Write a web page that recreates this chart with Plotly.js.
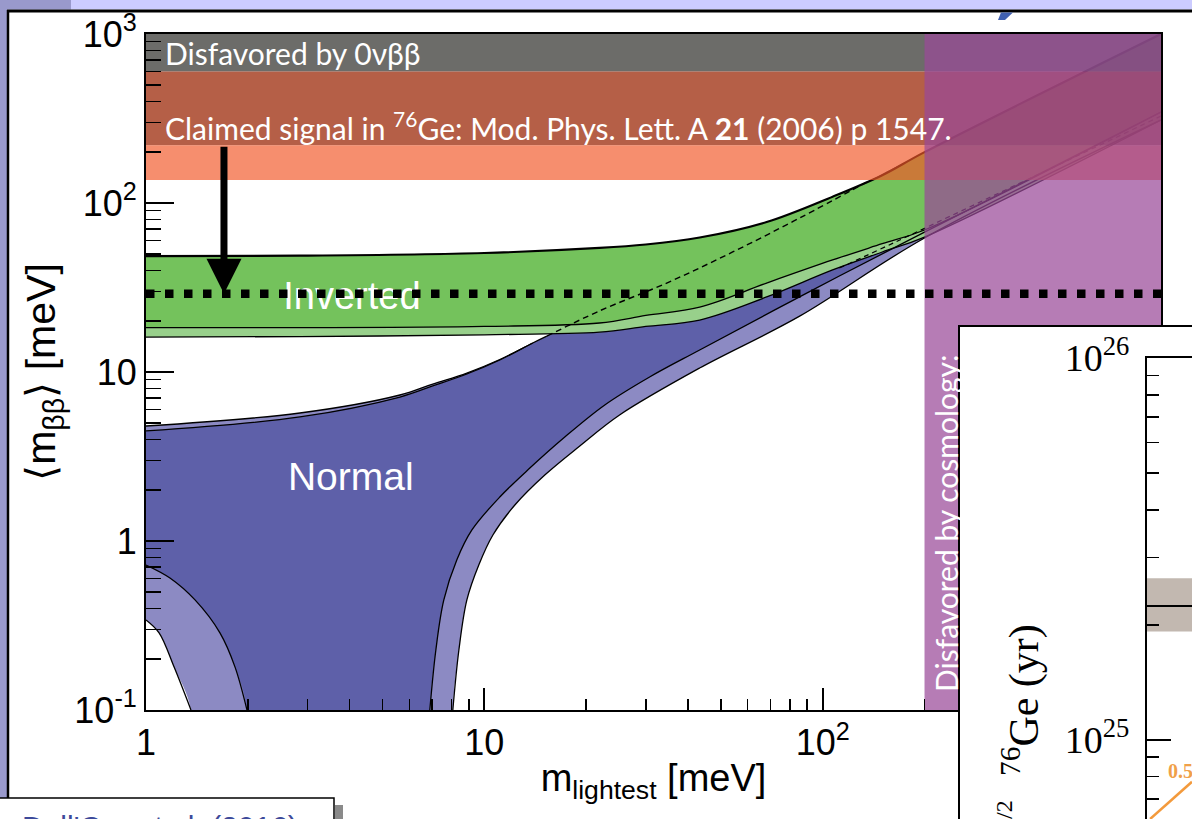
<!DOCTYPE html>
<html><head><meta charset="utf-8">
<script src="https://cdn.plot.ly/plotly-3.0.1.min.js"></script>
<style>html,body{margin:0;padding:0;background:#fff;overflow:hidden}#chart{width:1192px;height:819px}</style>
</head><body><div id="chart"></div>
<script>
// ---------- data (values in meV) ----------
// Inverted ordering band
const ioX        = [1, 2.85, 10, 21.9, 30, 43.3, 68.3, 107, 150, 200, 1000];
const ioUpper    = [48.5, 48.8, 50.6, 54.2, 56.8, 62.5, 77.2, 109, 146, 200, 1000];
const ioDarkLow  = [18.3, 18.3, 18.6, 19.5, 21.6, 24.2, 33.6, 46.0, 57.4, 69.2, 345];
const ioLightLow = [16.1, 16.2, 16.6, 17.2, 18.6, 20.3, 27.8, 40.2, 51.3, 62.9, 310];
// Normal ordering band: top edges at small m_lightest
const noTopX     = [1, 2.85, 5.63, 7.04, 8.88, 11.11, 13.9];
const noDarkTop  = [4.48, 5.42, 7.11, 8.27, 9.73, 11.78, 14.85];
const noLightTop = [4.79, 5.72, 7.31, 8.49, 9.86, 11.86, 14.85];
// common top edge (dashed inside the inverted band)
const noUpX = [15.3, 21.9, 34.6, 54.2, 85.5, 135, 200, 1000];
const noUpY = [16.3, 23.0, 33.6, 51.3, 81.5, 133, 200, 1000];
// lower edges: inner (cancellation) branch and outer branch
const noDarkInnerX  = [1, 1.177, 1.396, 1.654, 1.832, 1.988];
const noDarkInnerY  = [0.721, 0.604, 0.448, 0.286, 0.180, 0.1];
const noDarkOuterX  = [6.90, 7.19, 7.59, 8.29, 9.19, 11.11, 13.63, 17.29, 22.7, 30.8, 43.3, 89.7, 200, 1000];
const noDarkOuterY  = [0.1, 0.2265, 0.448, 0.772, 1.162, 1.821, 2.70, 4.12, 6.38, 9.34, 13.5, 29.3, 67.3, 345];
const noLightInnerX = [1, 1.093, 1.21, 1.358];
const noLightInnerY = [0.341, 0.286, 0.180, 0.1];
const noLightOuterX = [8.07, 8.41, 8.88, 9.63, 10.6, 12.31, 15.09, 19.15, 25.1, 43.3, 85.5, 200, 1000];
const noLightOuterY = [0.1, 0.2265, 0.448, 0.721, 1.085, 1.633, 2.457, 3.65, 5.57, 10.56, 21.4, 62.1, 310];
// dashed line next to the lower edge of the inverted band
const dash2X = [112, 169, 1000];
const dash2Y = [41.2, 60.4, 327];
// horizontal bands [low, high]
const bandDisfavored = [600, 1000];
const bandClaimed1   = [220, 600];
const bandClaimed3   = [137, 220];
const cosmoX         = [200, 1000];
const sensitivity    = 29;
const arrowX = 1.70, arrowFrom = 220, arrowTo = 29;
const xRange = [1, 1000], yRange = [0.1, 1000];
const xTickVals = [1, 10, 100, 1000];
const xTickText = ['1', '10', '10<sup>2</sup>', '10<sup>3</sup>'];
const yTickVals = [0.1, 1, 10, 100, 1000];
const yTickText = ['10<sup>-1</sup>', '1', '10', '10<sup>2</sup>', '10<sup>3</sup>'];
// inset (half-life, yr)
const insetRangeY  = [6.2e24, 1e26];
const insetBand    = [1.92e25, 2.65e25];
const insetClaim   = 2.24e25;
const insetCurveX  = [0.07, 1.0];
const insetCurveY  = [6.2e24, 7.76e24];
const insetTickVals = [1e25, 1e26];
const insetTickText = ['10<sup>25</sup>', '10<sup>26</sup>'];

// ---------- helpers ----------
const W = 1192, H = 819;
const PX = v => v / W, PY = v => 1 - v / H;
const L10 = Math.log10;
function minorVals(lo, hi) { const v = []; for (let d = lo; d < hi; d++) for (let k = 2; k <= 9; k++) v.push(k * Math.pow(10, d)); return v; }
const base = {hoverinfo: 'skip', showlegend: false, xaxis: 'x', yaxis: 'y'};
const below = yRange[0] / 10; // closes lower edge outside the visible range
function lowerEdge(ix, iy, ox, oy) {
  return {x: ix.concat([ix[ix.length - 1], ox[0]], ox), y: iy.concat([below, below], oy)};
}
function fillBetween(lx, ly, ux, uy, color) {
  return [
    Object.assign({}, base, {x: lx, y: ly, mode: 'lines', line: {width: 0, shape: 'spline'}}),
    Object.assign({}, base, {x: ux, y: uy, mode: 'lines', line: {width: 0, shape: 'spline'}, fill: 'tonexty', fillcolor: color})
  ];
}
function stroke(x, y, w, dash) {
  return Object.assign({}, base, {x, y, mode: 'lines', line: {color: 'black', width: w, shape: 'spline', dash: dash || 'solid'}});
}
function rect(x0, x1, y0, y1, color) {
  return Object.assign({}, base, {x: [x0, x1, x1, x0, x0], y: [y0, y0, y1, y1, y0], mode: 'lines', line: {width: 0}, fill: 'toself', fillcolor: color});
}

const C = {
  ioDark: '#74c25c', ioLight: '#98d08b', noDark: '#5e60a9', noLight: '#8c8ac3',
  gray: 'rgba(71,71,68,0.8)', brown: 'rgba(162,55,25,0.8)', orange: 'rgba(241,89,42,0.68)',
  cosmo: 'rgba(154,74,152,0.72)'
};

const noLightLower = lowerEdge(noLightInnerX, noLightInnerY, noLightOuterX, noLightOuterY);
const noDarkLower  = lowerEdge(noDarkInnerX, noDarkInnerY, noDarkOuterX, noDarkOuterY);

const SANS = 'Liberation Sans, Arial, sans-serif';
const GILL = 'Lato, Open Sans, sans-serif';
const SERIF = 'Liberation Serif, Times New Roman, serif';

const traces = [].concat(
  fillBetween(noLightLower.x, noLightLower.y, noTopX.concat(noUpX), noLightTop.concat(noUpY), C.noLight),
  fillBetween(noDarkLower.x, noDarkLower.y, noTopX.concat(noUpX), noDarkTop.concat(noUpY), C.noDark),
  fillBetween(ioX, ioLightLow, ioX, ioUpper, C.ioLight),
  fillBetween(ioX, ioDarkLow, ioX, ioUpper, C.ioDark),
  [
    stroke(noTopX, noLightTop, 1.3),
    stroke(noTopX.concat([noUpX[0]]), noDarkTop.concat([noUpY[0]]), 1.3),
    stroke(noUpX.slice(0, 6), noUpY.slice(0, 6), 1.4, '6px,4px'),
    stroke(noDarkInnerX, noDarkInnerY, 1.3),
    stroke(noDarkOuterX, noDarkOuterY, 1.3),
    stroke(noLightInnerX, noLightInnerY, 1.3),
    stroke(noLightOuterX, noLightOuterY, 1.3),
    stroke(ioX, ioLightLow, 1.3),
    stroke(ioX, ioDarkLow, 1.3),
    stroke(dash2X, dash2Y, 1.2, '5px,4px'),
    stroke(ioX, ioUpper, 2.2),
    rect(xRange[0], xRange[1], bandDisfavored[0], bandDisfavored[1], C.gray),
    rect(xRange[0], xRange[1], bandClaimed1[0], bandClaimed1[1], C.brown),
    rect(xRange[0], xRange[1], bandClaimed3[0], bandClaimed3[1], C.orange),
    rect(cosmoX[0], cosmoX[1], yRange[0], yRange[1], C.cosmo),
    Object.assign({}, base, {x: [4.06], y: [27.0], mode: 'text', text: ['Inverted'],
      textfont: {family: SANS, size: 38, color: 'white'}}),
    Object.assign({}, base, {x: [4.03], y: [2.30], mode: 'text', text: ['Normal'],
      textfont: {family: SANS, size: 39, color: 'white'}}),
    Object.assign({}, base, {x: xRange, y: [sensitivity, sensitivity], mode: 'lines',
      line: {color: 'black', width: 8.5, dash: '8.5px,10.5px'}}),
    // inset frame and inset plot
    {x: [0.5], y: [0.5], mode: 'markers', marker: {opacity: 0}, xaxis: 'x2', yaxis: 'y2', hoverinfo: 'skip', showlegend: false},
    {x: [0, 1, 1, 0, 0], y: [insetBand[0], insetBand[0], insetBand[1], insetBand[1], insetBand[0]], mode: 'lines',
      line: {width: 0}, fill: 'toself', fillcolor: '#c2b8b0', xaxis: 'x3', yaxis: 'y3', hoverinfo: 'skip', showlegend: false},
    {x: [0, 1], y: [insetClaim, insetClaim], mode: 'lines', line: {color: 'black', width: 2},
      xaxis: 'x3', yaxis: 'y3', hoverinfo: 'skip', showlegend: false},
    {x: insetCurveX, y: insetCurveY, mode: 'lines', line: {color: '#f39a3c', width: 2.5},
      xaxis: 'x3', yaxis: 'y3', hoverinfo: 'skip', showlegend: false}
  ]
);

const layout = {
  width: W, height: H, margin: {l: 0, r: 0, t: 0, b: 0},
  paper_bgcolor: 'white', plot_bgcolor: 'white', showlegend: false,
  xaxis: {
    type: 'log', range: [L10(xRange[0]), L10(xRange[1])], domain: [PX(146), PX(1161)], anchor: 'y',
    showline: true, linecolor: 'black', linewidth: 2, mirror: true, showgrid: false, zeroline: false,
    ticks: 'inside', ticklen: 22, tickwidth: 2, tickcolor: 'black',
    tickmode: 'array', tickvals: xTickVals, ticktext: xTickText,
    tickfont: {family: SANS, size: 36, color: 'black'},
    minor: {tickmode: 'array', tickvals: minorVals(0, 3), ticks: 'inside', ticklen: 11, tickwidth: 1.5, tickcolor: 'black', showgrid: false},
    title: {text: 'm<sub>lightest</sub> [meV]', font: {family: SANS, size: 38, color: 'black'}, standoff: 2}
  },
  yaxis: {
    type: 'log', range: [L10(yRange[0]), L10(yRange[1])], domain: [PY(710), PY(34)], anchor: 'x',
    showline: true, linecolor: 'black', linewidth: 2, mirror: true, showgrid: false, zeroline: false,
    ticks: 'inside', ticklen: 28, tickwidth: 2, tickcolor: 'black',
    tickmode: 'array', tickvals: yTickVals, ticktext: yTickText,
    tickfont: {family: SANS, size: 36, color: 'black'},
    minor: {tickmode: 'array', tickvals: minorVals(-1, 3), ticks: 'inside', ticklen: 15, tickwidth: 1.5, tickcolor: 'black', showgrid: false},
    title: {text: '\u27e8m<sub>\u03b2\u03b2</sub>\u27e9 [meV]', font: {family: SANS, size: 41, color: 'black'}, standoff: 6}
  },
  xaxis2: {domain: [PX(960), 1], range: [0, 1], anchor: 'y2', side: 'top', showline: true, linecolor: 'black', linewidth: 2,
    showgrid: false, zeroline: false, ticks: '', showticklabels: false, fixedrange: true},
  yaxis2: {domain: [0, PY(327)], range: [0, 1], anchor: 'x2', showline: true, linecolor: 'black', linewidth: 2,
    showgrid: false, zeroline: false, ticks: '', showticklabels: false, fixedrange: true},
  xaxis3: {domain: [PX(1147), 1], range: [0, 1], anchor: 'y3', side: 'top', showline: true, linecolor: 'black', linewidth: 2,
    showgrid: false, zeroline: false, ticks: '', showticklabels: false},
  yaxis3: {type: 'log', domain: [0, PY(358)], range: [L10(insetRangeY[0]), L10(insetRangeY[1])], anchor: 'x3',
    showline: true, linecolor: 'black', linewidth: 2, showgrid: false, zeroline: false,
    ticks: 'inside', ticklen: 24, tickwidth: 2, tickcolor: 'black',
    tickmode: 'array', tickvals: insetTickVals, ticktext: insetTickText,
    tickfont: {family: SERIF, size: 38, color: 'black'}, ticklabelstandoff: 8,
    minor: {tickmode: 'array', tickvals: minorVals(24, 26), ticks: 'inside', ticklen: 12, tickwidth: 1.5, tickcolor: 'black', showgrid: false}},
  shapes: [
    {type: 'rect', xref: 'paper', yref: 'paper', x0: 0, x1: 1, y0: PY(9.5), y1: 1, fillcolor: '#ccccff', line: {width: 0}, layer: 'above'},
    {type: 'rect', xref: 'paper', yref: 'paper', x0: 0, x1: PX(71), y0: PY(9.5), y1: 1, fillcolor: '#9999cc', line: {width: 0}, layer: 'above'},
    {type: 'rect', xref: 'paper', yref: 'paper', x0: 0, x1: PX(7), y0: PY(798), y1: 1, fillcolor: '#9999cc', line: {width: 0}, layer: 'above'},
    {type: 'line', xref: 'paper', yref: 'paper', x0: PX(7), x1: 1, y0: PY(11), y1: PY(11), line: {color: 'black', width: 3}, layer: 'above'},
    {type: 'line', xref: 'paper', yref: 'paper', x0: PX(8), x1: PX(8), y0: PY(798), y1: PY(10), line: {color: 'black', width: 2.5}, layer: 'above'},
    {type: 'path', xref: 'paper', yref: 'paper', layer: 'above', fillcolor: '#4060b0', line: {width: 0},
      path: 'M' + PX(1001) + ',' + PY(12.6) + 'L' + PX(1013) + ',' + PY(12.6) + 'L' + PX(1005) + ',' + PY(20) + 'L' + PX(998) + ',' + PY(20) + 'Z'},
    {type: 'rect', xref: 'paper', yref: 'paper', x0: PX(335), x1: PX(343), y0: PY(840), y1: PY(805), fillcolor: '#8a8a8a', line: {width: 0}, layer: 'above'},
    {type: 'rect', xref: 'paper', yref: 'paper', x0: PX(-5), x1: PX(334), y0: PY(840), y1: PY(798), fillcolor: 'white', line: {color: 'black', width: 1.5}, layer: 'above'}
  ],
  annotations: [
    {xref: 'paper', yref: 'paper', x: PX(163), y: PY(53), xanchor: 'left', yanchor: 'middle', showarrow: false,
      text: 'Disfavored by 0\u03bd\u03b2\u03b2', font: {family: GILL, size: 30, color: 'white'}},
    {xref: 'paper', yref: 'paper', x: PX(163), y: PY(126), xanchor: 'left', yanchor: 'middle', showarrow: false,
      text: 'Claimed signal in <sup>76</sup>Ge: Mod. Phys. Lett. A <b>21</b> (2006) p 1547.', font: {family: GILL, size: 30, color: 'white'}},
    {xref: 'paper', yref: 'paper', x: PX(946), y: PY(523), xanchor: 'center', yanchor: 'middle', showarrow: false, textangle: -90,
      text: 'Disfavored by cosmology:', font: {family: GILL, size: 30, color: 'white'}},
    {xref: 'x', yref: 'y', axref: 'x', ayref: 'y', x: L10(arrowX), y: L10(arrowTo), ax: L10(arrowX), ay: L10(arrowFrom),
      text: '', showarrow: true, arrowhead: 2, arrowsize: 1, arrowwidth: 7, arrowcolor: 'black', standoff: 0},
    {xref: 'paper', yref: 'paper', x: PX(1021), y: PY(700), xanchor: 'center', yanchor: 'middle', showarrow: false, textangle: -90,
      text: '<sup>76</sup>Ge (yr)', font: {family: SERIF, size: 42, color: 'black'}},
    {xref: 'paper', yref: 'paper', x: PX(1004), y: PY(815), xanchor: 'center', yanchor: 'middle', showarrow: false, textangle: -90,
      text: '1/2', font: {family: SERIF, size: 24, color: 'black'}},
    {xref: 'paper', yref: 'paper', x: PX(1166), y: PY(771), xanchor: 'left', yanchor: 'middle', showarrow: false,
      text: '<b>0.5</b>', font: {family: SERIF, size: 20, color: '#f0a048'}},
    {xref: 'paper', yref: 'paper', x: PX(20), y: PY(808), xanchor: 'left', yanchor: 'top', showarrow: false,
      text: "Dell'Oro et al. (2016)", font: {family: SANS, size: 30, color: '#3d4a9a'}}
  ]
};

Plotly.newPlot('chart', traces, layout, {staticPlot: true, displayModeBar: false});
</script>
</body></html>
